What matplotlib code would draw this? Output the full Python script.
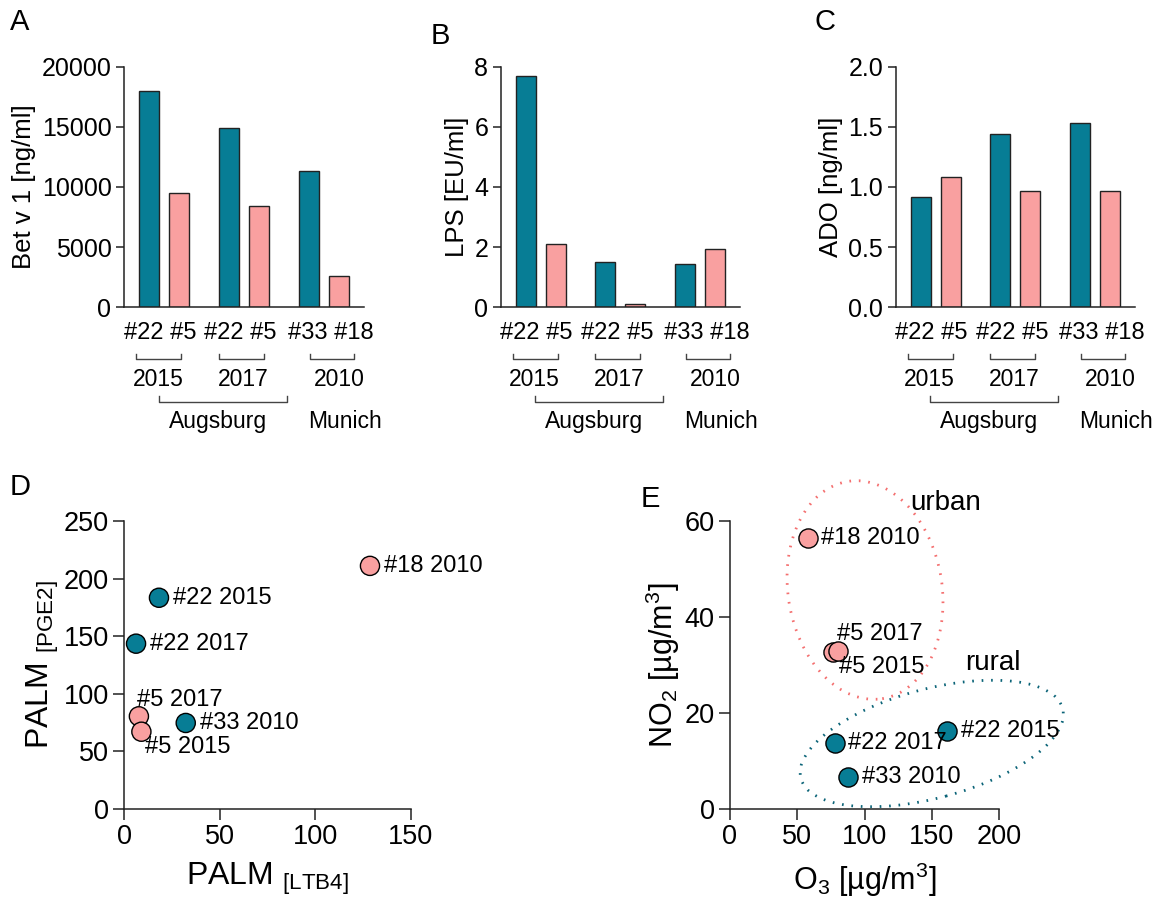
import matplotlib
matplotlib.use("Agg")
import matplotlib.pyplot as plt
import matplotlib.transforms as mtransforms
from matplotlib.patches import Ellipse

plt.rcParams["font.family"] = ["Liberation Sans", "DejaVu Sans"]
plt.rcParams["mathtext.default"] = "regular"

TEAL = "#077d95"
PINK = "#f9a0a0"
EDGE = "#222222"

# ---- bar data (panels A-C) ----
bar_pos = [0, 1, 2.667, 3.667, 5.333, 6.333]
bar_colors = [TEAL, PINK, TEAL, PINK, TEAL, PINK]
betv1 = [18000, 9500, 14900, 8450, 11300, 2620]
lps = [7.7, 2.1, 1.49, 0.1, 1.43, 1.95]
ado = [0.915, 1.085, 1.44, 0.965, 1.53, 0.97]

group_labels = ["#22 #5", "#22 #5", "#33 #18"]
group_label_x = [0.37, 3.05, 6.07]
year_labels = ["2015", "2017", "2010"]
year_spans = [(-0.43, 1.07), (2.33, 3.83), (5.37, 6.83)]
year_label_x = [0.3, 3.13, 6.33]
city_labels = ["Augsburg", "Munich"]
city_label_x = [2.3, 6.53]
augsburg_span = (0.33, 4.6)

# ---- scatter data (panel D) ----
d_names = ["#18 2010", "#22 2015", "#22 2017", "#5 2017", "#5 2015", "#33 2010"]
d_ltb4 = [128.7, 18.3, 6.3, 7.8, 9.1, 32.3]
d_pge2 = [211, 183.3, 143.4, 80.3, 66.9, 74.5]
d_colors = [PINK, TEAL, TEAL, PINK, PINK, TEAL]
d_offsets = [(14, 0), (14, 0), (14, 0), (-2, 16), (4, -15), (14, 0)]

# ---- scatter data (panel E) ----
e_names = ["#18 2010", "#5 2017", "#5 2015", "#22 2017", "#22 2015", "#33 2010"]
e_o3 = [58.2, 80.0, 76.6, 78.1, 161.1, 88.0]
e_no2 = [56.5, 32.9, 32.7, 13.6, 16.3, 6.6]
e_colors = [PINK, PINK, PINK, TEAL, TEAL, TEAL]
e_offsets = [(13, 0), (-1, 17), (6, -15), (13, 0), (14, 0), (14, 0)]

W, H = 1158, 906
fig = plt.figure(figsize=(W / 100, H / 100), dpi=100)


def add_ax(l, r, t, b):
    return fig.add_axes([l / W, 1 - b / H, (r - l) / W, (b - t) / H])


def style(ax, ticklen=6, size=18):
    for s in ["top", "right"]:
        ax.spines[s].set_visible(False)
    for s in ["left", "bottom"]:
        ax.spines[s].set_color(EDGE)
        ax.spines[s].set_linewidth(1.1)
    ax.tick_params(length=ticklen, width=1.1, color=EDGE, labelsize=size, pad=3)


def bar_panel(ax, vals, ylim, yticks, ylabel, fmt):
    ax.bar(bar_pos, vals, width=0.667, color=bar_colors, edgecolor=EDGE, linewidth=1.0)
    ax.set_xlim(-0.833, 7.167)
    ax.set_ylim(*ylim)
    ax.set_yticks(yticks)
    ax.set_yticklabels([fmt.format(v) for v in yticks])
    ax.set_xticks([])
    style(ax)
    ax.set_ylabel(ylabel, fontsize=18.5, labelpad=4)
    tr = mtransforms.blended_transform_factory(ax.transData, ax.transAxes)
    for lab, x in zip(group_labels, group_label_x):
        ax.text(x, -0.108, lab, transform=tr, ha="center", va="center", fontsize=17)
    for (x0, x1), lab, x in zip(year_spans, year_labels, year_label_x):
        ax.plot([x0, x0, x1, x1], [-0.196, -0.218, -0.218, -0.196], transform=tr,
                color="#444444", lw=1.0, clip_on=False)
        ax.text(x, -0.304, lab, transform=tr, ha="center", va="center", fontsize=16.5)
    x0, x1 = augsburg_span
    ax.plot([x0, x0, x1, x1], [-0.372, -0.396, -0.396, -0.372], transform=tr,
            color="#444444", lw=1.0, clip_on=False)
    for lab, x in zip(city_labels, city_label_x):
        ax.text(x, -0.479, lab, transform=tr, ha="center", va="center", fontsize=16.5)


axA = add_ax(124, 364, 67, 307)
bar_panel(axA, betv1, (0, 20000), [0, 5000, 10000, 15000, 20000], "Bet v 1 [ng/ml]", "{:.0f}")
axB = add_ax(500.7, 740, 67, 307)
bar_panel(axB, lps, (0, 8), [0, 2, 4, 6, 8], "LPS [EU/ml]", "{:.0f}")
axC = add_ax(895.7, 1135, 67, 307)
bar_panel(axC, ado, (0, 2.0), [0, 0.5, 1.0, 1.5, 2.0], "ADO [ng/ml]", "{:.1f}")

# ---- panel D ----
axD = add_ax(124, 410.7, 521, 808.7)
axD.scatter(d_ltb4, d_pge2, s=190, c=d_colors, edgecolors="black", linewidths=1.0,
            zorder=3, clip_on=False)
for name, x, y, (dx, dy) in zip(d_names, d_ltb4, d_pge2, d_offsets):
    axD.annotate(name, (x, y), xytext=(dx * 0.72, dy * 0.72), textcoords="offset points",
                 ha="left", va="center", fontsize=17)
axD.set_xlim(0, 150)
axD.set_ylim(0, 250)
axD.set_xticks([0, 50, 100, 150])
axD.set_yticks([0, 50, 100, 150, 200, 250])
style(axD, ticklen=8, size=19.5)
axD.set_xlabel(r"PALM $_{[LTB4]}$", fontsize=23, labelpad=8)
axD.set_ylabel(r"PALM $_{[PGE2]}$", fontsize=23, labelpad=2)

# ---- panel E ----
axE = add_ax(730, 999, 521, 808.7)
axE.set_xlim(0, 200)
axE.set_ylim(0, 60)


def dotted_ellipse(ax, cx, cy, w_px, h_px, angle, color):
    tr = fig.dpi_scale_trans + mtransforms.ScaledTranslation(cx, cy, ax.transData)
    e = Ellipse((0, 0), w_px / 100, h_px / 100, angle=angle, transform=tr,
                fill=False, edgecolor=color, linewidth=2.0, linestyle=(0, (0.6, 2.8)),
                clip_on=False, zorder=1)
    ax.add_patch(e)


dotted_ellipse(axE, 100.4, 45.6, 154, 220, 9, "#f46f6f")
dotted_ellipse(axE, 150, 13.6, 271, 109, 15, "#0b6478")

order = [2, 1, 0, 3, 4, 5]
for i in order:
    axE.scatter(e_o3[i], e_no2[i], s=190, c=e_colors[i], edgecolors="black",
                linewidths=1.0, zorder=3, clip_on=False)
for name, x, y, (dx, dy) in zip(e_names, e_o3, e_no2, e_offsets):
    axE.annotate(name, (x, y), xytext=(dx * 0.72, dy * 0.72), textcoords="offset points",
                 ha="left", va="center", fontsize=17, zorder=4)
axE.text(134, 63.8, "urban", fontsize=20, ha="left", va="center")
axE.text(175, 30.4, "rural", fontsize=20, ha="left", va="center")
axE.set_xticks([0, 50, 100, 150, 200])
axE.set_yticks([0, 20, 40, 60])
style(axE, ticklen=8, size=19.5)
axE.set_xlabel(r"O$_3$ [µg/m$^3$]", fontsize=22, labelpad=8)
axE.set_ylabel(r"NO$_2$ [µg/m$^3$]", fontsize=22, labelpad=2)

# panel letters
for lab, x, y in [("A", 10, 22), ("B", 431, 36), ("C", 814, 22), ("D", 10, 487), ("E", 641, 499)]:
    fig.text(x / W, 1 - y / H, lab, fontsize=21, ha="left", va="center")

fig.savefig("out.png", dpi=100)
